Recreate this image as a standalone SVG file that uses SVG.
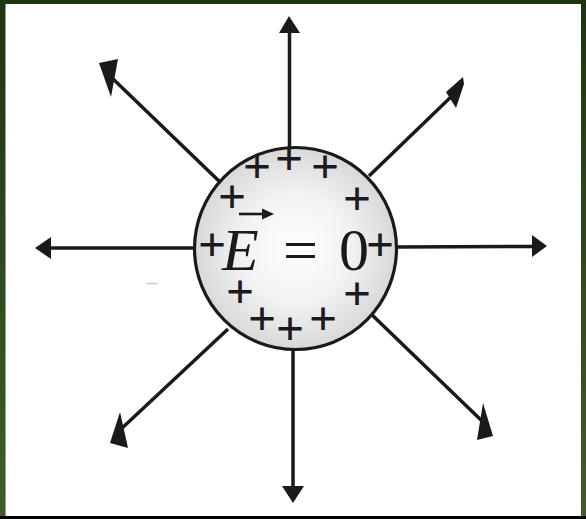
<svg xmlns="http://www.w3.org/2000/svg" width="586" height="519" viewBox="0 0 586 519">
  <defs>
    <radialGradient id="sphereFill" cx="0.5" cy="0.5" r="0.5">
      <stop offset="0" stop-color="#ffffff"/>
      <stop offset="0.55" stop-color="#f2f2f2"/>
      <stop offset="1" stop-color="#d8d8d8"/>
    </radialGradient>
    <linearGradient id="frameGrad" x1="0" y1="0" x2="0" y2="1">
      <stop offset="0" stop-color="#1c3510"/>
      <stop offset="1" stop-color="#3f5f26"/>
    </linearGradient>
  </defs>
  <style>
    .line { stroke: #1a1a1a; stroke-width: 3.5; fill: none; }
    .head { fill: #1a1a1a; stroke: none; }
    .plus { font-family: "Liberation Serif", "Times New Roman", serif; font-size: 47px; fill: #1a1a1a; stroke: #1a1a1a; stroke-width: 1.1; text-anchor: middle; }
    .eq { font-family: "Liberation Serif", "Times New Roman", serif; font-size: 60px; fill: #1a1a1a; }
  </style>

  <!-- frame -->
  <rect x="0" y="0" width="586" height="519" fill="url(#frameGrad)"/>
  <rect x="5" y="4" width="576" height="512" fill="#ffffff"/>
  <line x1="5.5" y1="4" x2="5.5" y2="516" stroke="#9a9a9a" stroke-width="1"/>
  <rect x="0" y="516" width="586" height="3" fill="#000000"/>

  <!-- faint mark -->
  <line x1="147" y1="283.5" x2="158" y2="283.5" stroke="#c8c8c8" stroke-width="1.5"/>

  <g id="connectors">
    <!-- N -->
    <line class="line" x1="289.5" y1="150" x2="289.5" y2="30"/>
    <polygon class="head" points="289,16 300,33 279,33"/>
    <!-- S -->
    <line class="line" x1="293" y1="348" x2="293" y2="490"/>
    <polygon class="head" points="293,503 304,486 282,486"/>
    <!-- W -->
    <line class="line" x1="196" y1="248" x2="48" y2="248"/>
    <polygon class="head" points="35,248 51,237 51,259"/>
    <!-- E -->
    <line class="line" x1="395" y1="247" x2="534" y2="246.5"/>
    <polygon class="head" points="547,246 532,235 532,257"/>
    <!-- NW -->
    <line class="line" x1="221" y1="183" x2="110" y2="76"/>
    <polygon class="head" points="99,63 118,59 111,97"/>
    <!-- NE -->
    <line class="line" x1="369" y1="176" x2="455" y2="93"/>
    <polygon class="head" points="463,77 464,84 456,108 446,92"/>
    <!-- SW -->
    <line class="line" x1="228" y1="329" x2="120" y2="430"/>
    <polygon class="head" points="120,412 128,448 110,443"/>
    <!-- SE -->
    <line class="line" x1="369" y1="312" x2="482" y2="421"/>
    <polygon class="head" points="483,403 493,436 477,440"/>
  </g>

  <g id="sphere">
    <circle cx="295.5" cy="248.5" r="101" fill="url(#sphereFill)" stroke="#1a1a1a" stroke-width="3.2"/>
    <text class="plus" x="257" y="182">+</text>
    <text class="plus" x="289" y="174">+</text>
    <text class="plus" x="325" y="182">+</text>
    <text class="plus" x="232" y="212">+</text>
    <text class="plus" x="357" y="214">+</text>
    <text class="plus" x="212" y="260">+</text>
    <text class="plus" x="380" y="260">+</text>
    <text class="plus" x="240" y="307">+</text>
    <text class="plus" x="357" y="309">+</text>
    <text class="plus" x="262" y="334">+</text>
    <text class="plus" x="290" y="344">+</text>
    <text class="plus" x="323" y="334">+</text>
  </g>

  <g id="label">
    <text class="eq" x="222" y="270" font-style="italic">E</text>
    <line x1="239" y1="214" x2="264" y2="214" stroke="#1a1a1a" stroke-width="2.6"/>
    <polygon class="head" points="274,214 262,208.5 262,219.5"/>
    <text class="eq" x="300.5" y="270" text-anchor="middle" textLength="35" lengthAdjust="spacingAndGlyphs">=</text>
    <text class="eq" x="354" y="270" text-anchor="middle">0</text>
  </g>
</svg>
